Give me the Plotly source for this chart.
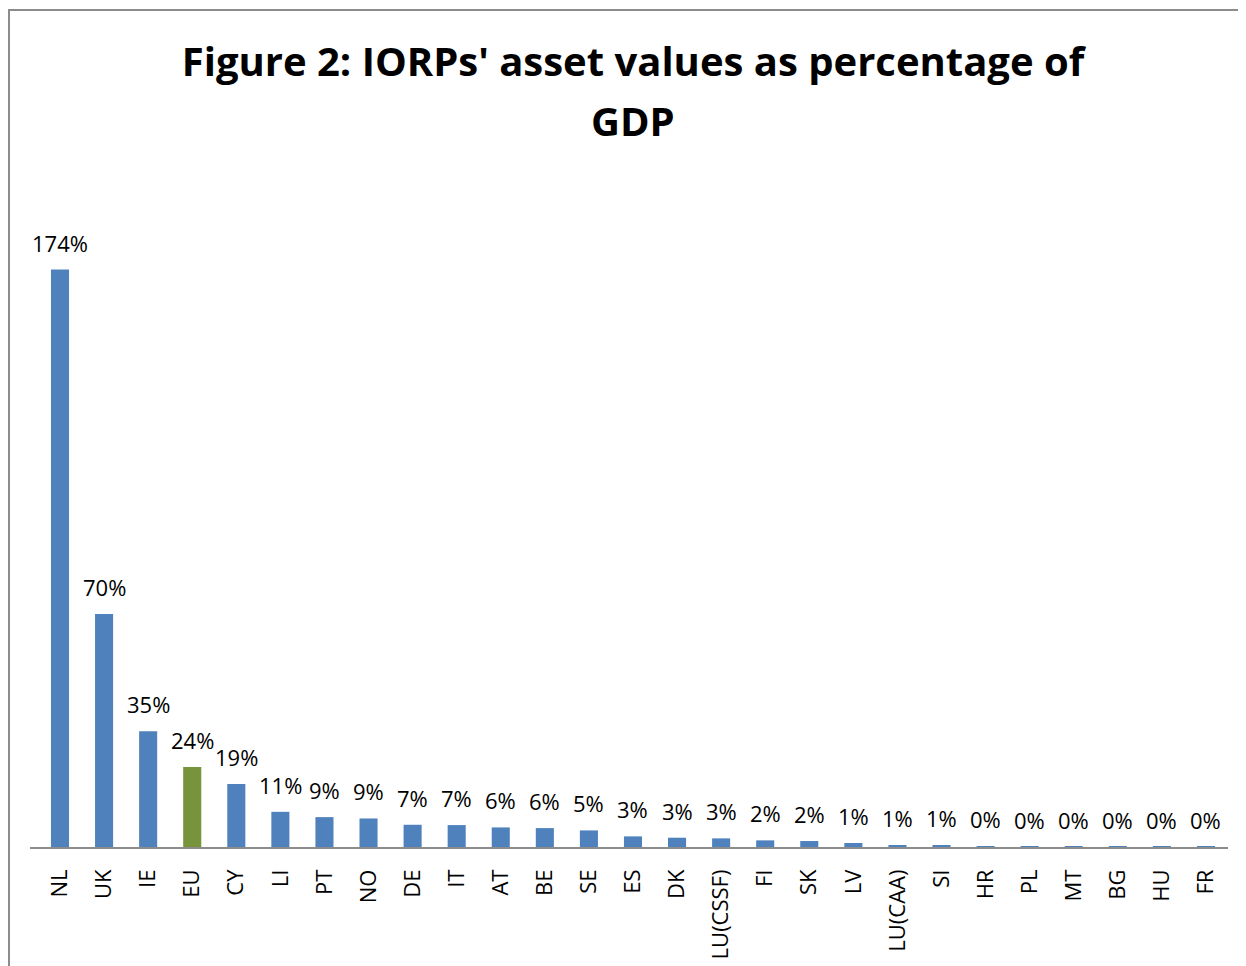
import plotly.graph_objects as go

# values (percent of GDP)
countries = ["NL", "UK", "IE", "EU", "CY", "LI", "PT", "NO", "DE", "IT", "AT", "BE", "SE",
             "ES", "DK", "LU(CSSF)", "FI", "SK", "LV", "LU(CAA)", "SI", "HR", "PL", "MT",
             "BG", "HU", "FR"]
asset_pct = [174, 70.2, 34.9, 24.1, 19.0, 10.6, 9.0, 8.6, 6.7, 6.6, 5.9, 5.7, 5.0,
             3.2, 2.8, 2.6, 2.0, 1.8, 1.2, 0.6, 0.6, 0.2, 0.05, 0.04, 0.03, 0.02, 0.01]

BLUE = "#4F81BD"
GREEN = "#77933C"
colors = [GREEN if c == "EU" else BLUE for c in countries]

FONT = "Open Sans, Noto Sans, sans-serif"

# page body adds an 8px margin, so the figure is laid out 8px smaller
W, H = 1238, 958
PL, PR, PT, PB = 22, 1220, 172, 839   # plot area in figure pixels
pw, ph = PR - PL, PB - PT

fig = go.Figure()

fig.add_trace(go.Bar(
    x=countries,
    y=asset_pct,
    marker_color=colors,
    marker_line_width=0,
    hoverinfo="x+y",
))

# data labels above bars
labels = [dict(
    x=c, y=v, xref="x", yref="y",
    text=f"{v:.0f}%",
    showarrow=False,
    yanchor="middle", yshift=27,
    font=dict(family=FONT, size=22, color="#000000"),
) for c, v in zip(countries, asset_pct)]

fig.update_layout(
    width=W,
    height=H,
    margin=dict(l=PL, r=W - PR, t=PT, b=H - PB, autoexpand=False),
    plot_bgcolor="white",
    paper_bgcolor="white",
    showlegend=False,
    bargap=0.59,
    title=dict(
        text="<b>Figure 2: IORPs' asset values as percentage of</b>",
        x=625 / W, xanchor="center",
        y=1 - 54 / H, yanchor="middle", yref="container",
        font=dict(family=FONT, size=40, color="#000000"),
    ),
    annotations=labels + [dict(
        text="<b>GDP</b>",
        x=(625 - PL) / pw, xref="paper", xanchor="center",
        y=(PB - 112) / ph, yref="paper", yanchor="middle",
        showarrow=False,
        font=dict(family=FONT, size=40, color="#000000"),
    )],
    # chart-area frame; right and bottom edges run off the page
    shapes=[dict(
        type="rect", xref="paper", yref="paper",
        x0=(1 - PL) / pw, x1=(1260 - PL) / pw,
        y0=(PB - 990) / ph, y1=(PB - 2) / ph,
        line=dict(color="#8C8C8C", width=2),
        fillcolor="rgba(0,0,0,0)",
        layer="below",
    )],
)

fig.update_xaxes(
    automargin=False,
    showline=True, linecolor="#8C8C8C", linewidth=1.5,
    showgrid=False, ticks="",
    tickangle=-90,
    ticklabelstandoff=12,
    tickfont=dict(family=FONT, size=22, color="#000000"),
)
fig.update_yaxes(
    automargin=False,
    range=[0, 201],
    visible=False,
    showgrid=False,
)

fig.write_html("out.html")
